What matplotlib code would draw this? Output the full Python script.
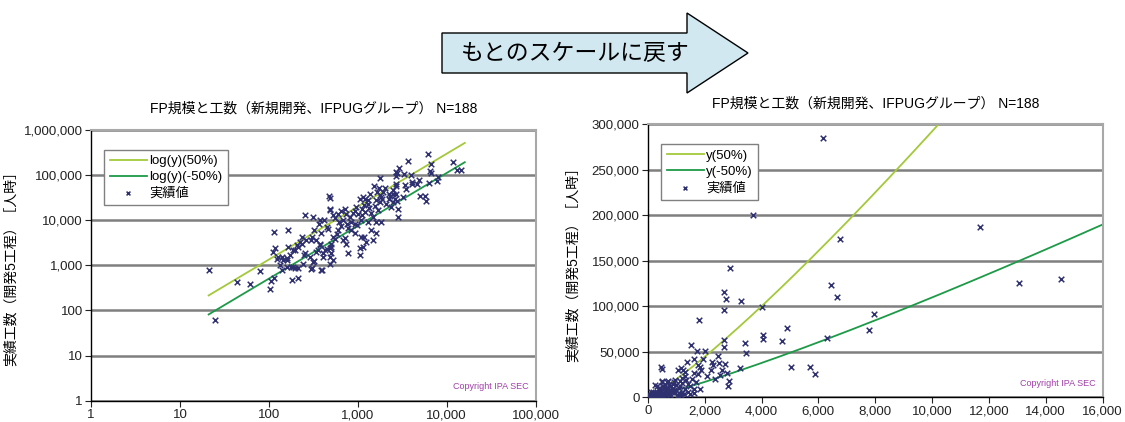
import numpy as np
import matplotlib.pyplot as plt
from matplotlib.patches import Polygon
from matplotlib.ticker import FuncFormatter, FixedLocator, NullLocator

plt.rcParams['font.family'] = ['Liberation Sans', 'Noto Sans CJK JP', 'DejaVu Sans']

# FP規模 と 実績工数（188件、図から読み取り）
fp = [6150, 3700, 11670, 6750, 2890, 6430, 13065, 14530, 2660, 6660, 2760, 3290, 4000, 2660, 7940,
      1780, 4900, 7770, 4040, 4040, 6310, 4700, 3400, 2660, 2660, 1530, 1740, 2010, 3450, 5050,
      5710, 5890, 3230, 2700, 2300, 2220, 2520, 2770, 2820, 1830, 1770, 1390, 490, 1220,
      21, 25, 44, 61, 79, 104, 105, 115, 115, 112, 117, 128, 123, 133, 141, 184, 215, 162, 178, 196,
      166, 189, 207, 222, 233, 250, 297, 322, 400, 360, 380, 297, 322, 370, 420, 465, 483, 483, 483,
      527, 410, 446, 505, 555, 580, 779, 680, 166, 254, 315,
      473, 374, 484, 527, 601, 656, 715, 745, 813, 850, 684, 925, 1050, 1150, 1306, 1620, 1766, 1927,
      2496, 2606, 2840, 1845, 1620, 1423, 1620, 1100, 1250, 1050, 1150, 925, 715, 745, 601, 527, 502,
      484, 502, 390, 405, 426, 374, 343, 302, 264, 233, 214, 196, 172, 158, 145, 139, 158, 187, 214,
      243, 302, 316, 289, 253, 343, 390, 446, 776, 1050, 925, 1306,
      850, 980, 1075, 1130, 1180, 1290, 1180, 1490, 1490, 1700, 1870, 1630, 2060, 2270, 2480, 2370,
      560, 620, 880, 960, 1000, 1120, 1200, 1350, 1400, 1550, 760, 640]
effort = [285000, 200000, 187400, 173500, 142300, 123200, 125400, 129800, 115900, 109600, 108200,
          106000, 99400, 96100, 91300, 85100, 76300, 74100, 68600, 63400, 64900, 61200, 59800, 62300,
          55400, 57600, 51000, 51000, 48800, 33400, 33400, 25700, 31900, 36700, 34800, 29300, 24600,
          26000, 11700, 32600, 24900, 38500, 31200, 29300,
          800, 63, 420, 380, 760, 294, 450, 533, 5360, 2000, 2380, 1520, 1350, 1000, 770, 465, 525, 1300,
          935, 890, 2540, 2220, 2750, 3270, 4220, 1690, 840, 1250, 800, 2220, 2900, 3560, 5900, 8300,
          9860, 6450, 17300, 1090, 1520, 1290, 1870, 2330, 2540, 3880, 5010, 1900, 3560, 5900, 13100,
          11900,
          33500, 9800, 16300, 12600, 13800, 16200, 17800, 13800, 11700, 9100, 9800, 16200, 29600, 32000,
          23000, 27000, 34900, 41400, 38000, 29600, 17800, 9100, 9100, 6000, 5040, 4270, 3300, 2350,
          2570, 5040, 3900, 3000, 6000, 4270, 3000, 2350, 1820, 780, 1550, 2150, 2760, 3550, 4270, 3550,
          3000, 2570, 2150, 1660, 1410, 1290, 1550, 915, 915, 850, 1090, 850, 1180, 1550, 1820, 2000,
          5040, 7100, 6500, 1660, 8300, 9100,
          5900, 7650, 9860, 12700, 21200, 27300, 4220, 3560, 11700, 16400, 29500, 41700, 23100, 38300,
          45400, 19400,
          11000, 9000, 14500, 19000, 13500, 17500, 15000, 18500, 14000, 20000, 8000, 7200]

# 回帰線 y = a * x^b （図から読み取った係数）
upper_a, upper_b = 6.1, 1.17
lower_a, lower_b = 2.33, 1.168
line_range = (21, 16000)

title = 'FP規模と工数（新規開発、IFPUGグループ） N=188'
ylabel = '実績工数（開発5工程）［人時］'
arrow_text = 'もとのスケールに戻す'

light_green = '#a3c93a'
dark_green = '#1d9a48'
navy = '#2e3070'
grid_gray = '#7f7f7f'

fig = plt.figure(figsize=(11.25, 4.22), dpi=100)

ax1 = fig.add_axes([0.081, 0.05, 0.395, 0.643])
ax2 = fig.add_axes([0.576, 0.059, 0.404, 0.647])

xs = np.geomspace(*line_range, 300)
comma = FuncFormatter(lambda v, p: f'{v:,.0f}')


def style(ax, label_x):
    ax.set_axisbelow(True)
    ax.yaxis.grid(True, color=grid_gray, lw=1.8)
    for s in ('top', 'right'):
        ax.spines[s].set_color('#a8a8a8')
        ax.spines[s].set_linewidth(1.5)
    for s in ('left', 'bottom'):
        ax.spines[s].set_color('black')
        ax.spines[s].set_linewidth(1.0)
    ax.tick_params(labelsize=9.5, length=4, width=0.8, colors='#222222', pad=2)
    ax.xaxis.set_major_formatter(comma)
    ax.yaxis.set_major_formatter(comma)
    ax.set_ylabel(ylabel, fontsize=10)
    ax.yaxis.set_label_coords(label_x, 0.5)
    ax.text(0.985, 0.035, 'Copyright IPA SEC', transform=ax.transAxes, ha='right', va='bottom',
            fontsize=6.5, color='#a040a8')
    ax.set_title(title, fontsize=10, pad=12)
    ax.legend(loc='upper left', bbox_to_anchor=(0.015, 0.95), frameon=True, fancybox=False,
              edgecolor='#808080', framealpha=1, fontsize=9.5, handlelength=2.8, handletextpad=0.2,
              labelspacing=0.3, borderpad=0.4, markerscale=0.7)


# 左：両対数
ax1.set_xscale('log')
ax1.set_yscale('log')
ax1.plot(xs, upper_a * xs ** upper_b, color=light_green, lw=1.3, label='log(y)(50%)', zorder=2)
ax1.plot(xs, lower_a * xs ** lower_b, color=dark_green, lw=1.3, label='log(y)(-50%)', zorder=2)
ax1.scatter(fp, effort, marker='x', s=16, color=navy, lw=1.1, label='実績値', zorder=3)
ax1.set_xlim(1, 100000)
ax1.set_ylim(1, 1000000)
ax1.xaxis.set_major_locator(FixedLocator([1, 10, 100, 1000, 10000, 100000]))
ax1.yaxis.set_major_locator(FixedLocator([1, 10, 100, 1000, 10000, 100000, 1000000]))
ax1.xaxis.set_minor_locator(NullLocator())
ax1.yaxis.set_minor_locator(NullLocator())
style(ax1, -0.165)

# 右：もとのスケール
ax2.plot(xs, upper_a * xs ** upper_b, color=light_green, lw=1.3, label='y(50%)', zorder=2)
ax2.plot(xs, lower_a * xs ** lower_b, color=dark_green, lw=1.3, label='y(-50%)', zorder=2)
ax2.scatter(fp, effort, marker='x', s=16, color=navy, lw=1.1, label='実績値', zorder=3)
ax2.set_xlim(0, 16000)
ax2.set_ylim(0, 300000)
ax2.set_xticks(np.arange(0, 16001, 2000))
ax2.set_yticks(np.arange(0, 300001, 50000))
style(ax2, -0.15)

# 矢印
W, H = 1125, 422
arrow_px = [(442, 33), (687, 33), (687, 13), (748, 53), (687, 93), (687, 73), (442, 73)]
arrow = Polygon([(x / W, 1 - y / H) for x, y in arrow_px], closed=True, transform=fig.transFigure,
                facecolor='#d2e8f0', edgecolor='black', lw=1.0)
fig.patches.append(arrow)
fig.text(461 / W, 1 - 53 / H, arrow_text, fontsize=16.5, ha='left', va='center')

fig.savefig('out.png', dpi=100)
